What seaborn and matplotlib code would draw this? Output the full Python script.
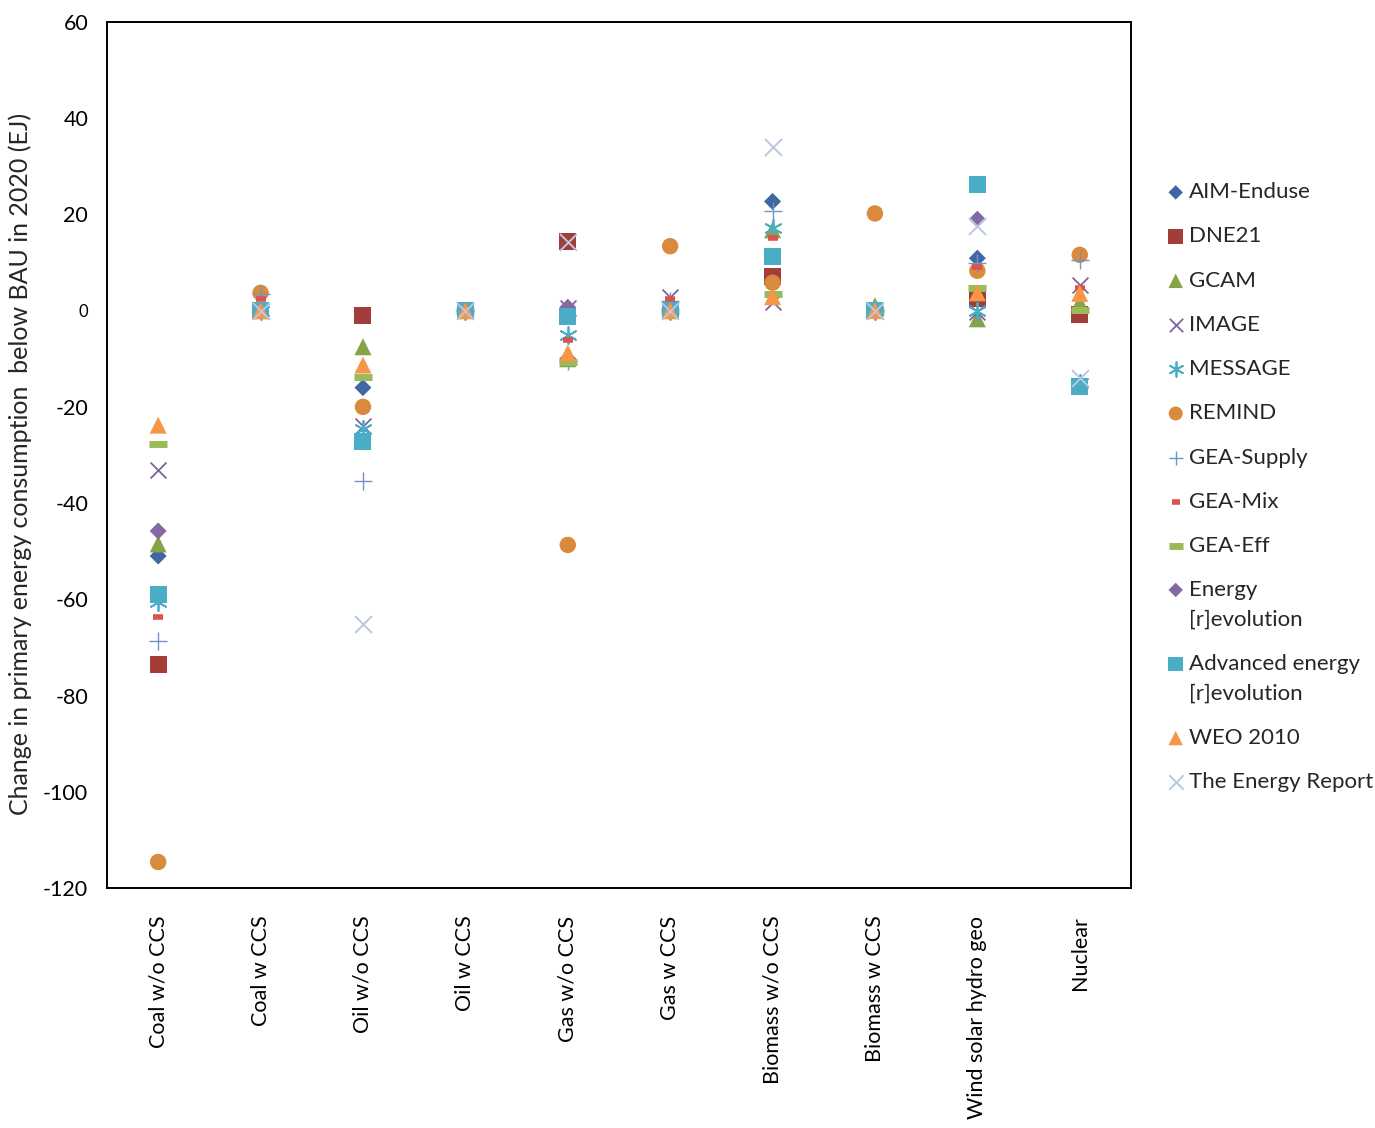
import numpy as np
import matplotlib
matplotlib.use("Agg")
import matplotlib.pyplot as plt
import seaborn as sns

nan = np.nan

categories = ["Coal w/o CCS", "Coal w CCS", "Oil w/o CCS", "Oil w CCS", "Gas w/o CCS",
              "Gas w CCS", "Biomass w/o CCS", "Biomass w CCS", "Wind solar hydro geo", "Nuclear"]

aim_enduse = [-51, 0, -16, 0, -10, 0, 22.7, 0, 10.9, 0]
dne21 = [-73.6, 0, -1.1, 0, 14.3, 0, 7.1, 0, 2.6, -0.9]
gcam = [-48.5, 0, -7.5, 0, -10, 0, 16.8, 1, -1.7, 1.7]
image = [-33.1, 0, -24, 0, 0.5, 2.8, 1.8, 0, -0.3, 5.3]
message = [-60.5, 0, -24.5, 0, -5, 0, 17.2, 0, 0, -15]
remind = [-114.6, 3.7, -20, 0, -48.7, 13.4, 5.8, 20.2, 8.3, 11.6]
gea_supply = [-68.7, 3.5, -35.4, 0, -10.5, 2, 20.8, 0, 10, 10.5]
gea_mix = [-63.7, 2.4, nan, 0, -6.1, 2.4, 15.1, 0, 9.1, 4.7]
gea_eff = [-27.7, nan, -13.7, 0, -10.6, 0, 3.5, 0, 4.7, 0.1]
energy_rev = [-45.8, 0, nan, 0, 0.7, 0, nan, 0, 19, nan]
adv_energy_rev = [-59.1, 0, -27.3, 0, -1.2, 0, 11.2, 0, 26.3, -15.7]
weo_2010 = [-23.8, 0, -11.3, 0, -8.8, 0, 2.9, 0, 3.7, 3.6]
energy_report = [nan, 0, -65.1, 0, 14.3, 0, 34.1, 0, 17.6, -14]

# label, values, marker, colour, size, line width (0 -> filled marker)
series = [
    ("AIM-Enduse", aim_enduse, "D", "#3f67a3", 75, 0),
    ("DNE21", dne21, "s", "#a33d3a", 150, 0),
    ("GCAM", gcam, "^", "#86a34a", 150, 0),
    ("IMAGE", image, "x", "#7d64a0", 130, 1.3),
    ("MESSAGE", message, (6, 2, 0), "#4aacc6", 150, 1.3),
    ("REMIND", remind, "o", "#d98a3c", 140, 0),
    ("GEA-Supply", gea_supply, "+", "#6f95c8", 150, 1.0),
    ("GEA-Mix", gea_mix, "_", "#d9534f", 50, 4),
    ("GEA-Eff", gea_eff, "_", "#9bbb59", 160, 5),
    ("Energy\n[r]evolution", energy_rev, "D", "#8468a4", 75, 0),
    ("Advanced energy\n[r]evolution", adv_energy_rev, "s", "#4bacc6", 150, 0),
    ("WEO 2010", weo_2010, "^", "#f79646", 150, 0),
    ("The Energy Report", energy_report, "x", "#b9c7e0", 150, 1.4),
]

sns.set_style("white")
plt.rcParams["font.family"] = ["Lato", "DejaVu Sans"]
plt.rcParams["axes.unicode_minus"] = False

fig = plt.figure(figsize=(13.75, 11.28), dpi=100)
ax = fig.add_axes([0.0778, 0.2128, 0.7447, 0.7677])

xpos = np.arange(len(categories))
for label, vals, marker, color, size, lw in series:
    if lw == 0:
        sns.scatterplot(x=xpos, y=vals, marker=marker, color=color, s=size,
                        edgecolor="none", linewidth=0, ax=ax, label=label)
    else:
        sns.scatterplot(x=xpos, y=vals, marker=marker, color=color, s=size,
                        linewidth=lw, ax=ax, label=label)

ax.set_xlim(-0.5, len(categories) - 0.5)
ax.set_ylim(-120, 60)
ax.set_yticks(np.arange(-120, 61, 20))
ax.set_xticks(xpos)
ax.set_xticklabels(categories, rotation=90, fontsize=15.5)
ax.tick_params(axis="y", direction="inout", length=20, width=1.2, labelsize=15.5, colors="black")
ax.tick_params(axis="x", direction="in", length=15, width=1.2, pad=20, colors="black")
for lab in ax.get_yticklabels():
    if lab.get_text() == "0":
        lab.set_fontsize(12)
for sp in ax.spines.values():
    sp.set_color("black")
    sp.set_linewidth(1.4)

ax.set_ylabel("Change in primary energy consumption  below BAU in 2020 (EJ)", fontsize=18)
ax.yaxis.set_label_coords(-0.073, 0.49)

leg = ax.legend(loc="upper left", bbox_to_anchor=(0.8405, 0.8483), bbox_transform=fig.transFigure,
                frameon=False, fontsize=16, markerscale=0.85, handlelength=0.8,
                handletextpad=0.2, labelspacing=1.09, borderpad=0)
for t in leg.get_texts():
    t.set_linespacing(1.6)
# two-line entries: marker next to the first line
for column in leg._legend_handle_box.get_children():
    for row in column.get_children():
        txt = row.get_children()[1]
        if "\n" in txt._text.get_text():
            row.align = "top"

fig.savefig("out.png", dpi=100)
